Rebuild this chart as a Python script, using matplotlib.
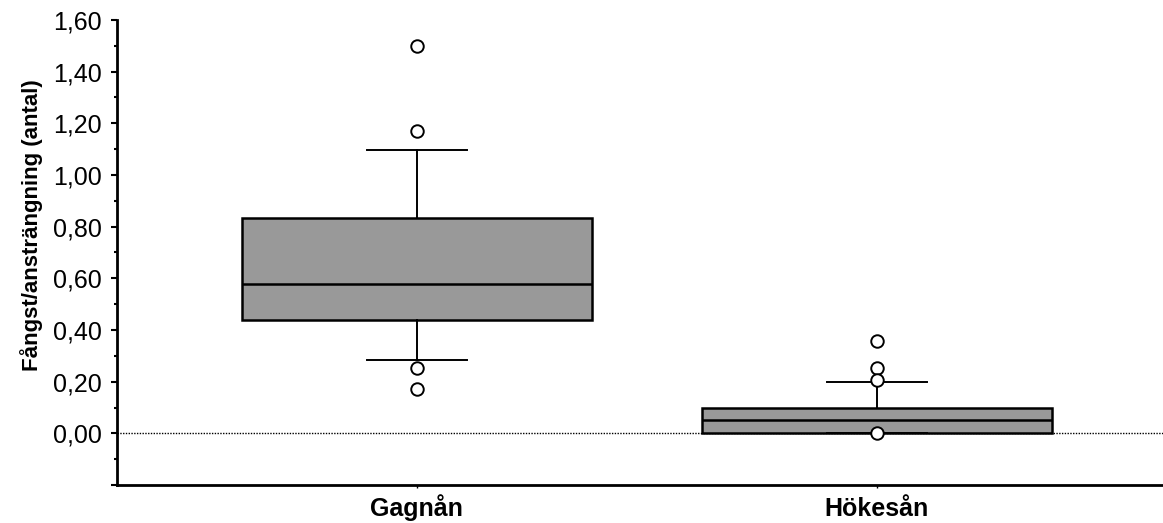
import matplotlib.pyplot as plt
from matplotlib.ticker import MultipleLocator, FuncFormatter

plt.rcParams['font.family'] = ['Liberation Sans', 'DejaVu Sans']

# box statistics
sites = ['Gagnån', 'Hökesån']
q1 = [0.438, 0.0]
median = [0.578, 0.05]
q3 = [0.833, 0.097]
whisker_low = [0.283, 0.0]
whisker_high = [1.097, 0.20]
outliers = [[1.50, 1.17, 0.252, 0.17], [0.357, 0.252, 0.205, 0.0]]

stats = []
for i, name in enumerate(sites):
    stats.append({
        'label': name,
        'q1': q1[i], 'med': median[i], 'q3': q3[i],
        'whislo': whisker_low[i], 'whishi': whisker_high[i],
        'fliers': outliers[i],
    })

fig = plt.figure(figsize=(11.63, 5.23), dpi=100)
ax = fig.add_axes([117 / 1163, 38 / 523, 1 - 117 / 1163, 465 / 523])

ax.axhline(0, color='black', lw=1, ls=(0, (1, 1)), zorder=0)

ax.bxp(stats, positions=[1, 2], widths=0.761, patch_artist=True,
       boxprops=dict(facecolor='#999999', edgecolor='black', lw=1.8),
       medianprops=dict(color='black', lw=1.8),
       whiskerprops=dict(color='black', lw=1.4),
       capprops=dict(color='black', lw=1.4),
       capwidths=0.217,
       flierprops=dict(marker='o', markerfacecolor='white', markeredgecolor='black',
                       markersize=9, markeredgewidth=1.4))

ax.set_xlim(0.348, 2.622)
ax.set_ylim(-0.2, 1.6)
ax.yaxis.set_major_locator(MultipleLocator(0.2))
ax.yaxis.set_minor_locator(MultipleLocator(0.1))
ax.yaxis.set_major_formatter(FuncFormatter(lambda v, p: f'{v:.2f}'.replace('.', ',') if v > -0.1 else ''))

ax.spines['top'].set_visible(False)
ax.spines['right'].set_visible(False)
ax.spines['left'].set_linewidth(2)
ax.spines['bottom'].set_linewidth(2)
ax.tick_params(axis='y', which='major', length=4, width=1.5, labelsize=18, pad=7)
ax.tick_params(axis='y', which='minor', length=2.5, width=1.5)
ax.tick_params(axis='x', length=2, width=1, labelsize=18, pad=20)
for lbl in ax.get_xticklabels():
    lbl.set_fontweight('bold')
    lbl.set_verticalalignment('baseline')

ax.set_ylabel('Fångst/ansträngning (antal)', fontsize=16, fontweight='bold')
ax.yaxis.set_label_coords(-0.071, 0.559)

fig.savefig('out.png', dpi=100)
